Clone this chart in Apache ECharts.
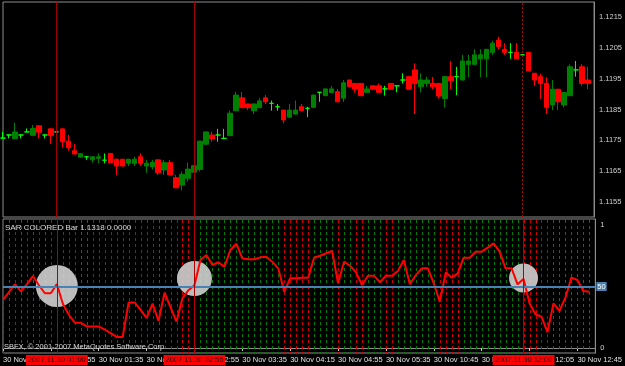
<!DOCTYPE html>
<html>
<head>
<meta charset="utf-8">
<script src="https://cdn.jsdelivr.net/npm/echarts@6/dist/echarts.min.js"></script>
<style>
  html, body { margin: 0; padding: 0; background: #000; }
  #container { width: 625px; height: 366px; }
</style>
</head>
<body>
<div id="container"></div>
<script>
// M5 bars, 30 Nov 2007 (two sessions, gap after 06:10)
let sessions = [['00:15', 72], ['10:45', 27]];
let barTimes = [];
sessions.forEach(([start, count]) => {
  let [h, m] = start.split(':').map(Number);
  let t = h * 60 + m;
  for (let i = 0; i < count; i++) {
    let mm = t + i * 5;
    barTimes.push(String(Math.floor(mm / 60)).padStart(2, '0') + ':' + String(mm % 60).padStart(2, '0'));
  }
});
barTimes.push(''); // empty slot on the right edge

// [open, close, low, high]
let candles = [
  [1.11757,1.11757,1.11755,1.11777],[1.11767,1.11767,1.11756,1.11768],[1.11755,1.11777,1.11754,1.11807],
  [1.11767,1.11767,1.11756,1.11768],[1.11777,1.11777,1.11776,1.11788],[1.11766,1.11788,1.11765,1.11799],
  [1.11797,1.11776,1.11756,1.11798],[1.11767,1.11767,1.11756,1.11768],[1.11787,1.11765,1.11738,1.11788],
  [1.11777,1.11777,1.11776,1.11778],[1.11787,1.11745,1.11726,1.11788],[1.11747,1.11726,1.11716,1.11767],
  [1.11716,1.11705,1.11704,1.11738],[1.11695,1.11706,1.11694,1.11707],[1.11696,1.11696,1.11686,1.11697],
  [1.11686,1.11696,1.11677,1.11697],[1.11691,1.11696,1.11675,1.11707],[1.11685,1.11685,1.11675,1.11707],
  [1.11707,1.11677,1.11676,1.11708],[1.11688,1.11666,1.11637,1.11690],[1.11688,1.11666,1.11665,1.11689],
  [1.11675,1.11688,1.11666,1.11689],[1.11675,1.11688,1.11666,1.11696],[1.11696,1.11675,1.11666,1.11707],
  [1.11666,1.11675,1.11644,1.11686],[1.11664,1.11678,1.11655,1.11686],[1.11686,1.11644,1.11637,1.11687],
  [1.11653,1.11677,1.11637,1.11686],[1.11677,1.11637,1.11636,1.11686],[1.11628,1.11595,1.11594,1.11637],
  [1.11604,1.11639,1.11586,1.11648],[1.11626,1.11656,1.11615,1.11677],[1.11646,1.11667,1.11645,1.11668],
  [1.11655,1.11747,1.11648,1.11748],[1.11737,1.11777,1.11736,1.11778],[1.11767,1.11754,1.11745,1.11778],
  [1.11767,1.11767,1.11745,1.11787],[1.11756,1.11756,1.11755,1.11787],[1.11765,1.11838,1.11764,1.11846],
  [1.11846,1.11897,1.11845,1.11907],[1.11888,1.11856,1.11855,1.11907],[1.11868,1.11856,1.11848,1.11869],
  [1.11846,1.11868,1.11835,1.11869],[1.11856,1.11878,1.11855,1.11887],[1.11888,1.11875,1.11868,1.11897],
  [1.11870,1.11870,1.11846,1.11879],[1.11859,1.11859,1.11846,1.11868],[1.11848,1.11816,1.11805,1.11849],
  [1.11825,1.11848,1.11824,1.11868],[1.11835,1.11848,1.11834,1.11879],[1.11859,1.11846,1.11845,1.11868],
  [1.11854,1.11854,1.11825,1.11859],[1.11857,1.11897,1.11856,1.11898],[1.11906,1.11906,1.11875,1.11907],
  [1.11895,1.11917,1.11894,1.11918],[1.11905,1.11917,1.11904,1.11927],[1.11908,1.11875,1.11874,1.11917],
  [1.11887,1.11937,1.11875,1.11946],[1.11946,1.11924,1.11923,1.11947],[1.11935,1.11916,1.11905,1.11936],
  [1.11935,1.11895,1.11894,1.11936],[1.11906,1.11917,1.11905,1.11927],[1.11927,1.11916,1.11915,1.11928],
  [1.11927,1.11906,1.11905,1.11935],[1.11917,1.11917,1.11895,1.11927],[1.11935,1.11916,1.11915,1.11936],
  [1.11927,1.11927,1.11906,1.11928],[1.11946,1.11946,1.11935,1.11968],[1.11957,1.11916,1.11915,1.11958],
  [1.11979,1.11935,1.11835,1.12000],[1.11924,1.11946,1.11906,1.11968],[1.11935,1.11946,1.11924,1.11957],
  [1.11935,1.11924,1.11916,1.11956],[1.11935,1.11894,1.11886,1.11936],[1.11886,1.11957,1.11857,1.11958],
  [1.11957,1.11944,1.11916,1.12008],[1.11957,1.11957,1.11897,1.11989],[1.11946,1.12008,1.11945,1.12028],
  [1.11997,1.12008,1.11955,1.12028],[1.11997,1.12028,1.11996,1.12046],[1.12015,1.12028,1.11955,1.12046],
  [1.12015,1.12046,1.11955,1.12047],[1.12036,1.12066,1.12028,1.12074],[1.12076,1.12055,1.12046,1.12087],
  [1.12046,1.12036,1.12028,1.12066],[1.12036,1.12036,1.12015,1.12066],[1.12036,1.12015,1.12014,1.12066],
  [1.12028,1.12028,1.12027,1.12029],[1.12036,1.11976,1.11975,1.12037],[1.11968,1.11946,1.11927,1.11969],
  [1.11957,1.11935,1.11885,1.11966],[1.11935,1.11857,1.11835,1.11955],[1.11865,1.11916,1.11848,1.11946],
  [1.11916,1.11875,1.11848,1.11917],[1.11865,1.11905,1.11857,1.11906],[1.11895,1.11989,1.11894,1.11997],
  [1.11979,1.11979,1.11957,1.12008],[1.11989,1.11935,1.11927,1.11997],[1.11946,1.11935,1.11916,1.11989]
];

// indicator line (0..1)
let sarValues = [
  0.39,0.455,0.52,0.46,0.52,0.585,0.51,0.445,0.445,0.52,
  0.36,0.27,0.205,0.205,0.175,0.175,0.175,0.15,0.12,0.09,
  0.09,0.37,0.37,0.31,0.245,0.36,0.22,0.45,0.33,0.215,
  0.405,0.47,0.51,0.715,0.756,0.675,0.697,0.66,0.797,0.848,
  0.729,0.721,0.721,0.737,0.742,0.702,0.648,0.458,0.567,0.567,
  0.572,0.572,0.734,0.75,0.77,0.789,0.526,0.702,0.669,0.615,
  0.512,0.588,0.588,0.534,0.588,0.588,0.626,0.715,0.518,0.593,
  0.648,0.648,0.526,0.376,0.615,0.572,0.607,0.734,0.734,0.783,
  0.783,0.816,0.851,0.783,0.648,0.648,0.518,0.561,0.363,0.274,
  0.254,0.128,0.363,0.301,0.409,0.572,0.553,0.463,0.458
];

// 1 = green bar, 0 = red bar (background columns)
let sarSide = [
  0,1,0,1,0,1,0,1,0,0,
  0,0,0,1,1,0,0,0,0,0,
  0,0,0,0,0,0,1,0,0,0,
  0,0,1,1,1,1,1,1,1,1,
  1,1,1,1,1,1,1,0,0,0,
  0,0,1,1,1,1,0,1,1,0,
  0,1,1,1,0,0,1,1,1,1,
  1,1,1,0,0,0,0,1,1,1,
  1,1,1,1,1,1,1,0,0,0,
  0,0,1,1,1,1,1,1,1
];

let levelValue = 0.5;
let levelLabel = '50';
let markedBars = [9, 32, 87];
let markedLabels = ['2007.11.30 01:00', '2007.11.30 02:55', '2007.11.30 12:00'];
let circleMarks = [[9.3, 0.504], [32.4, 0.565], [87.2, 0.569]];
let circleSizes = [42, 35, 29];

let chart = echarts.init(document.getElementById('container'));
let textFont = 'Liberation Sans';
let frame = '#8c8c8c';

option = {
  backgroundColor: '#000',
  animation: false,
  title: [
    {
      text: 'SAR COLORED Bar 1.1318 0.0000',
      left: 5, top: 224, padding: 0,
      textStyle: { color: '#d8d8d8', fontSize: 8, fontWeight: 'normal', fontFamily: textFont },
    },
    {
      text: 'SBFX, © 2001-2007 MetaQuotes Software Corp.',
      left: 4, top: 343, padding: 0,
      textStyle: { color: '#d8d8d8', fontSize: 7.5, fontWeight: 'normal', fontFamily: textFont },
    },
  ],
  grid: [
    { left: 3, width: 594, top: 2, height: 215, show: true, borderColor: frame, borderWidth: 1 },
    { left: 3, width: 594, top: 219, height: 134, show: true, borderColor: frame, borderWidth: 1 },
  ],
  xAxis: [
    {
      type: 'category', gridIndex: 0, data: barTimes, boundaryGap: false,
      axisLine: { show: false }, axisTick: { show: false }, axisLabel: { show: false },
      splitLine: { show: false },
    },
    {
      type: 'category', gridIndex: 1, data: barTimes, boundaryGap: false,
      axisLine: { lineStyle: { color: frame } },
      axisTick: { interval: 7, length: 3, lineStyle: { color: '#d0d0d0' } },
      axisLabel: {
        interval: 7, color: '#e0e0e0', fontSize: 7.5, fontFamily: textFont,
        align: 'left', margin: 3, hideOverlap: false,
        formatter: (v) => (v ? '30 Nov ' + v : ''),
      },
      splitLine: { show: false },
    },
  ],
  yAxis: [
    {
      type: 'value', gridIndex: 0, position: 'right',
      min: 1.115, max: 1.122, interval: 0.0005,
      axisLine: { show: true, lineStyle: { color: frame } },
      axisTick: { show: false },
      axisLabel: {
        color: '#d0d0d0', fontSize: 7.5, fontFamily: textFont, margin: 5,
        formatter: (v) => (Math.round(v * 10000) % 10 === 5 ? v.toFixed(4) : ''),
      },
      splitLine: { show: false },
    },
    {
      type: 'value', gridIndex: 1, position: 'right',
      min: -0.041, max: 1.049,
      axisLine: { show: true, lineStyle: { color: frame } },
      axisTick: { show: false },
      axisLabel: {
        color: '#d0d0d0', fontSize: 7.5, fontFamily: textFont, margin: 5,
        showMinLabel: false, showMaxLabel: false,
        formatter: (v) => (Math.abs(v - 1) < 1e-6 ? '1' : Math.abs(v) < 1e-6 ? '0' : ''),
      },
      splitLine: { show: false },
    },
  ],
  series: [
    {
      name: 'price',
      type: 'candlestick',
      xAxisIndex: 0, yAxisIndex: 0,
      data: candles,
      barWidth: 5,
      itemStyle: {
        color: '#008000', color0: '#ff0000',
        borderColor: '#008000', borderColor0: '#ff0000',
        borderColorDoji: '#00ff00', borderWidth: 1,
      },
      markLine: {
        silent: true, symbol: 'none',
        lineStyle: { color: '#a00000', type: 'solid', width: 1 },
        label: { show: false },
        // the last marker line is drawn dotted in the price panel
        data: markedBars.map((b, i) => ({
          xAxis: barTimes[b],
          lineStyle: i === markedBars.length - 1 ? { type: [2, 2], color: '#b00000' } : {},
        })),
      },
    },
    {
      name: 'columns',
      type: 'custom',
      xAxisIndex: 1, yAxisIndex: 1,
      z: 1,
      silent: true,
      data: sarSide.map((s, i) => [i, s]),
      renderItem: (params, api) => {
        let cs = params.coordSys;
        let x = Math.round(api.coord([api.value(0), 0])[0]) + 0.5;
        return {
          type: 'line',
          shape: { x1: x, y1: cs.y + 1, x2: x, y2: cs.y + cs.height },
          style: {
            stroke: api.value(1) ? '#008000' : '#d00000',
            lineWidth: 1,
            lineDash: [3, 3],
          },
        };
      },
    },
    {
      name: 'marks',
      type: 'scatter',
      xAxisIndex: 1, yAxisIndex: 1,
      z: 2,
      silent: true,
      data: circleMarks,
      symbolSize: (v, p) => circleSizes[p.dataIndex],
      itemStyle: { color: '#d6d6d6', opacity: 0.88 },
    },
    {
      name: 'SAR COLORED',
      type: 'line',
      xAxisIndex: 1, yAxisIndex: 1,
      z: 4,
      data: sarValues,
      showSymbol: false,
      lineStyle: { color: '#ff0000', width: 2 },
      markLine: {
        silent: true, symbol: 'none',
        data: [
          {
            yAxis: levelValue,
            lineStyle: { color: '#4682b4', width: 2, type: 'solid' },
            label: {
              show: true, position: 'end', formatter: levelLabel, distance: 1,
              color: '#ffffff', backgroundColor: '#4682b4', padding: [1, 1, 0, 1],
              fontSize: 7.5, fontFamily: textFont,
            },
          },
        ].concat(markedBars.map((b, i) => ({
          xAxis: barTimes[b],
          lineStyle: { color: '#b00000', width: 1, type: 'solid' },
          label: {
            show: true, position: 'start', formatter: markedLabels[i], distance: 2,
            color: '#200000', backgroundColor: '#ff0000', padding: [1, 2, 1, 2],
            fontSize: 7.5, fontFamily: textFont,
          },
        }))),
      },
    },
  ],
};

chart.setOption(option);
</script>
</body>
</html>
